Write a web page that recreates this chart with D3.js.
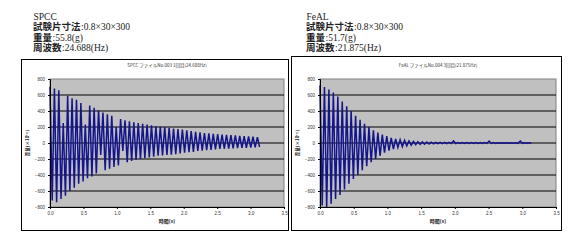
<!DOCTYPE html>
<html>
<head>
<meta charset="utf-8">
<script src="https://cdn.jsdelivr.net/npm/d3@7"></script>
<style>
  body { margin: 0; background: #fff; }
  svg { display: block; }
</style>
</head>
<body>
<div id="chart"></div>
<script>
var svgWidth = 583;
var svgHeight = 251;

// time between an upper peak and the next upper peak (s)
var peakStep = 0.066;

var xTicks = [0, 0.5, 1.0, 1.5, 2.0, 2.5, 3.0, 3.5];
var yTicks = [-800, -600, -400, -200, 0, 200, 400, 600, 800];

// SPCC
var spccInfo = [["", "SPCC"], ["試験片寸法", "0.8×30×300"], ["重量", "55.8(g)"], ["周波数", "24.688(Hz)"]];
var spccTitle = "SPCC ファイルNo.003  1回目(24.688Hz)";
var spccUpper = [700, 680, 660, 250, 590, 560, 540, 500, 230, 470, 440, 410,
  380, 360, 340, 200, 300, 285, 270, 260, 250, 240, 230, 220,
  210, 205, 198, 190, 182, 175, 168, 160, 150, 140, 132, 125,
  120, 115, 110, 106, 102, 98, 94, 90, 86, 82, 78, 74];
var spccLower = [-720, -740, -700, -660, -600, -560, -510, -480, -440, -420, -380, -150,
  -340, -320, -300, -280, -100, -240, -225, -210, -200, -190, -180, -170,
  -160, -155, -150, -145, -140, -130, -120, -115, -110, -100, -95, -90,
  -85, -80, -75, -72, -70, -68, -65, -62, -60, -57, -54, -50];

// FeAL
var fealInfo = [["", "FeAL"], ["試験片寸法", "0.8×30×300"], ["重量", "51.7(g)"], ["周波数", "21.875(Hz)"]];
var fealTitle = "FeAL ファイルNo.004  3回目(21.875Hz)";
var fealUpper = [720, 700, 670, 630, 580, 520, 460, 400, 340, 290, 240, 200,
  160, 130, 105, 85, 65, 50, 40, 32, 25, 20, 16, 14,
  12, 10, 9, 8, 8, 7, 25, 6, 6, 6, 5, 5,
  5, 5, 25, 5, 4, 4, 4, 4, 4, 25, 4, 4];
var fealLower = [-780, -810, -760, -700, -650, -580, -510, -450, -400, -340, -290, -240,
  -200, -160, -120, -95, -75, -55, -45, -35, -28, -22, -18, -15,
  -12, -10, -9, -8, -8, -7, -7, -6, -6, -6, -5, -5,
  -5, -5, -5, -5, -4, -4, -4, -4, -4, -4, -4, -4];

var yLabel = "歪量(×10⁻⁶)";
var xLabel = "時間(s)";

var svg = d3.select("#chart").append("svg")
  .attr("width", svgWidth)
  .attr("height", svgHeight);

function drawChart(info, title, upper, lower, box, plot, textX) {
  var g = svg.append("g");

  // header text above the chart box: bold gothic label, then serif value
  info.forEach(function(d, i) {
    var yy = 20 + i * 10.3;
    var w = 0;
    if (d[0]) {
      var lab = g.append("text")
        .attr("x", textX)
        .attr("y", yy)
        .attr("font-size", 9.5)
        .attr("font-family", "'Noto Sans CJK JP', sans-serif")
        .attr("font-weight", "bold")
        .attr("fill", "#222")
        .text(d[0]);
      w = lab.node().getComputedTextLength();
    }
    g.append("text")
      .attr("x", textX + w + 0.5)
      .attr("y", yy)
      .attr("font-size", 9.5)
      .attr("font-family", "'Liberation Serif', serif")
      .attr("fill", "#222")
      .text((d[0] ? ":" : "") + d[1]);
  });

  // chart box
  g.append("rect")
    .attr("x", box.x + 0.5)
    .attr("y", box.y + 0.5)
    .attr("width", box.w)
    .attr("height", box.h)
    .attr("fill", "#fff")
    .attr("stroke", "#000")
    .attr("stroke-width", 1);

  var x = d3.scaleLinear().domain([0, 3.5]).range([plot.left, plot.right]);
  var y = d3.scaleLinear().domain([-800, 800]).range([plot.bottom, plot.top]);

  // plot area
  g.append("rect")
    .attr("x", x(0))
    .attr("y", y(800))
    .attr("width", x(3.5) - x(0))
    .attr("height", y(-800) - y(800))
    .attr("fill", "#c0c0c0")
    .attr("stroke", "#808080")
    .attr("stroke-width", 1);

  // gridlines
  g.selectAll("line.grid")
    .data(yTicks.filter(d => d > -800 && d < 800))
    .enter()
    .append("line")
    .attr("x1", x(0))
    .attr("x2", x(3.5))
    .attr("y1", d => y(d))
    .attr("y2", d => y(d))
    .attr("stroke", "#000")
    .attr("stroke-width", 1);

  // signal: alternating upper/lower peaks
  var pts = [];
  upper.forEach(function(v, i) {
    pts.push([i * peakStep, v]);
    pts.push([i * peakStep + peakStep / 2, lower[i]]);
  });

  var line = d3.line()
    .x(d => x(d[0]))
    .y(d => y(d[1]));

  g.append("path")
    .datum(pts)
    .attr("d", line)
    .attr("fill", "none")
    .attr("stroke", "#14148c")
    .attr("stroke-width", 1.5);

  // axes
  var leftAxis = d3.axisLeft(y).tickValues(yTicks).tickSize(2).tickFormat(d3.format("d"));
  var bottomAxis = d3.axisBottom(x).tickValues(xTicks).tickSize(2).tickFormat(d3.format(".1f"));

  var ya = g.append("g")
    .attr("transform", `translate(${x(0)},0)`)
    .call(leftAxis);
  var xa = g.append("g")
    .attr("transform", `translate(0,${y(-800)})`)
    .call(bottomAxis);

  [ya, xa].forEach(function(a) {
    a.select(".domain").attr("stroke", "#000");
    a.selectAll("text")
      .attr("font-family", "Arial, 'Liberation Sans', sans-serif")
      .attr("font-size", 4.5)
      .attr("fill", "#333");
  });
  ya.selectAll("text").attr("x", -5);
  xa.selectAll("text").attr("y", 5);

  // titles
  g.append("text")
    .attr("x", (plot.left + plot.right) / 2)
    .attr("y", plot.top - 12)
    .attr("text-anchor", "middle")
    .attr("font-family", "'Noto Sans CJK JP', sans-serif")
    .attr("font-size", 4.5)
    .attr("fill", "#333")
    .text(title);

  g.append("text")
    .attr("x", (plot.left + plot.right) / 2)
    .attr("y", y(-800) + 16)
    .attr("text-anchor", "middle")
    .attr("font-family", "'Noto Sans CJK JP', sans-serif")
    .attr("font-size", 5)
    .attr("font-weight", "bold")
    .attr("fill", "#222")
    .text(xLabel);

  g.append("text")
    .attr("transform", `translate(${plot.left - 21},${(plot.top + plot.bottom) / 2}) rotate(-90)`)
    .attr("text-anchor", "middle")
    .attr("font-family", "'Noto Sans CJK JP', sans-serif")
    .attr("font-size", 4.5)
    .attr("font-weight", "bold")
    .attr("fill", "#222")
    .text(yLabel);
}

drawChart(spccInfo, spccTitle, spccUpper, spccLower,
  {x: 21, y: 59, w: 267, h: 171},
  {left: 50, right: 284, top: 79, bottom: 207}, 33);

drawChart(fealInfo, fealTitle, fealUpper, fealLower,
  {x: 291, y: 56, w: 270, h: 174},
  {left: 320, right: 556, top: 79, bottom: 207}, 306);
</script>
</body>
</html>
